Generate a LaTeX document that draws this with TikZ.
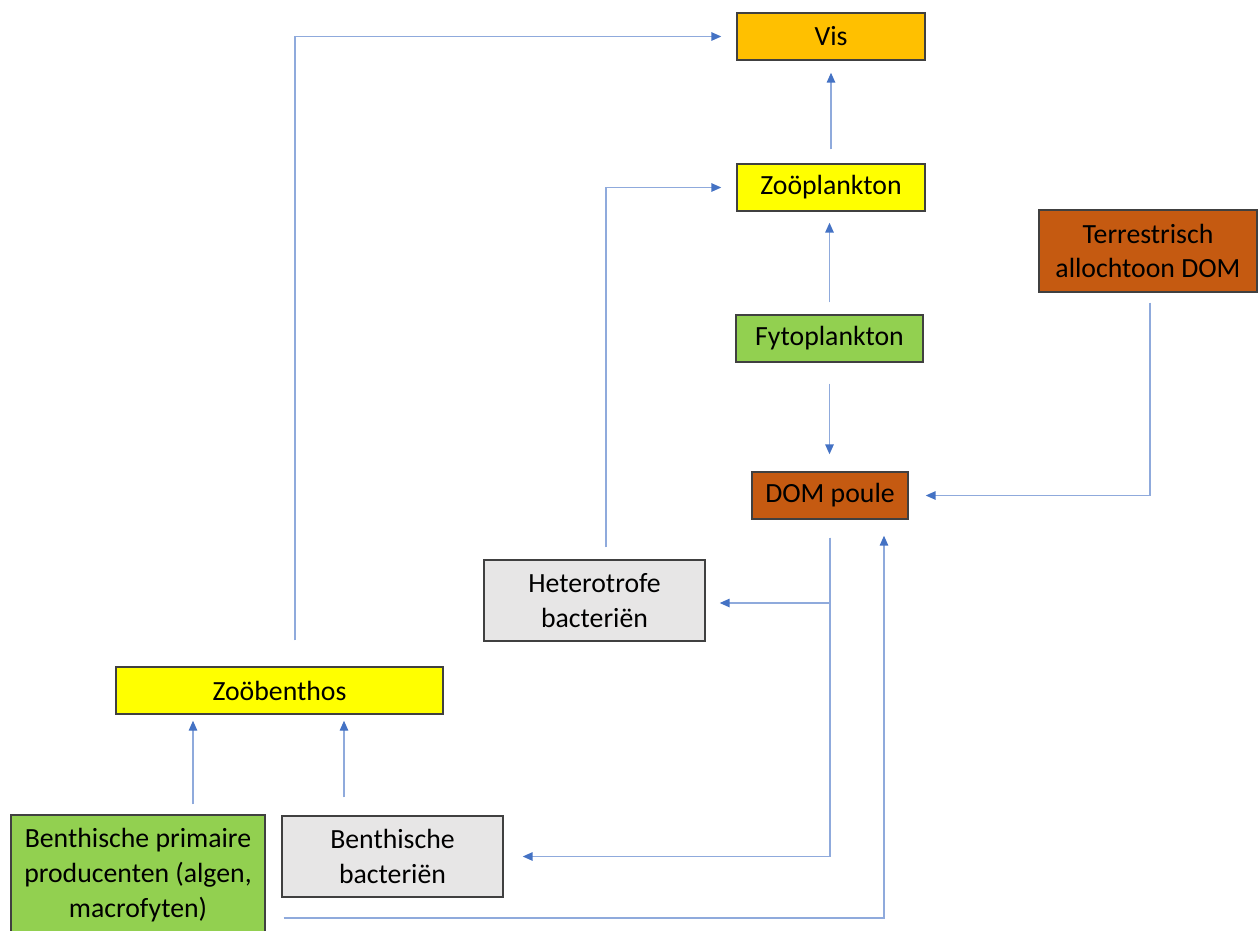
\documentclass[tikz,border=0pt]{standalone}
\usepackage{fontspec}
\setmainfont{Carlito}
\usetikzlibrary{arrows.meta}
\definecolor{lineblue}{HTML}{8FAADC}
\definecolor{headblue}{HTML}{4472C4}
\definecolor{orangeV}{HTML}{FFC000}
\definecolor{yellowZ}{HTML}{FFFF00}
\definecolor{greenF}{HTML}{92D050}
\definecolor{brownD}{HTML}{C55A11}
\definecolor{grayB}{HTML}{E7E6E6}
\definecolor{edge}{HTML}{404040}
\tikzset{
  box/.style={draw=edge, line width=0.8pt, align=center, inner sep=2pt,
    font=\fontsize{15.8}{19.7}\selectfont, text=black},
  conn/.style={draw=lineblue, line width=0.8pt,
    -{Triangle[length=0.2cm, width=0.17cm, color=headblue]}}
}
\begin{document}
\begin{tikzpicture}[x=0.02cm, y=-0.02cm]
\useasboundingbox (0,0) rectangle (1258,930);
\node[box, fill=orangeV, minimum width=3.76cm, minimum height=0.94cm] (vis) at (831,36.5) {Vis};
\node[box, fill=yellowZ, minimum width=3.76cm, minimum height=0.94cm] (zoop) at (831,187.5) {Zoöplankton};
\node[box, fill=greenF, minimum width=3.74cm, minimum height=0.94cm] (fyto) at (829.5,338.5) {Fytoplankton};
\node[box, fill=brownD, minimum width=4.36cm, minimum height=1.64cm] (terr) at (1148,251) {Terrestrisch\\allochtoon DOM};
\node[box, fill=brownD, minimum width=3.12cm, minimum height=0.94cm] (dom) at (830,495.5) {DOM poule};
\node[box, fill=grayB, minimum width=4.42cm, minimum height=1.62cm] (hetero) at (594.5,600.5) {Heterotrofe\\bacteriën};
\node[box, fill=yellowZ, minimum width=6.54cm, minimum height=0.94cm] (zoob) at (279.5,690.5) {Zoöbenthos};
\node[box, fill=greenF, minimum width=5.08cm, minimum height=2.4cm] (bpp) at (138,875) {Benthische primaire\\producenten (algen,\\macrofyten)};
\node[box, fill=grayB, minimum width=4.42cm, minimum height=1.62cm] (bbac) at (392.5,856.5) {Benthische\\bacteriën};

\draw[conn, shorten <=0.52cm, shorten >=0.3cm] (zoob.north -| 295,0) |- (vis.west);
\draw[conn, shorten <=0.28cm, shorten >=0.24cm] (zoop.north) -- (vis.south);
\draw[conn, shorten <=0.24cm, shorten >=0.22cm] (fyto.north) -- (fyto.north |- zoop.south);
\draw[conn, shorten <=0.24cm, shorten >=0.3cm] (hetero.north -| 606,0) |- (zoop.west);
\draw[conn, shorten <=0.42cm, shorten >=0.34cm] (fyto.south) -- (fyto.south |- dom.north);
\draw[conn, shorten <=0.2cm, shorten >=0.34cm] (terr.south -| 1150,0) |- (dom.east);
\draw[conn, shorten <=0.36cm, shorten >=0.28cm] (dom.south) |- ([yshift=-0.05cm]hetero.east);
\draw[conn, shorten <=0.36cm, shorten >=0.38cm] (dom.south) |- (bbac.east);
\draw[conn, shorten <=0.36cm, shorten >=0.32cm] (bpp.east |- 0,918) -| ([xshift=1.08cm]dom.south);
\draw[conn, shorten <=0.2cm, shorten >=0.12cm] (bpp.north -| 193,0) -- (zoob.south -| 193,0);
\draw[conn, shorten <=0.36cm, shorten >=0.12cm] (bbac.north -| 344,0) -- (zoob.south -| 344,0);
\end{tikzpicture}
\end{document}
